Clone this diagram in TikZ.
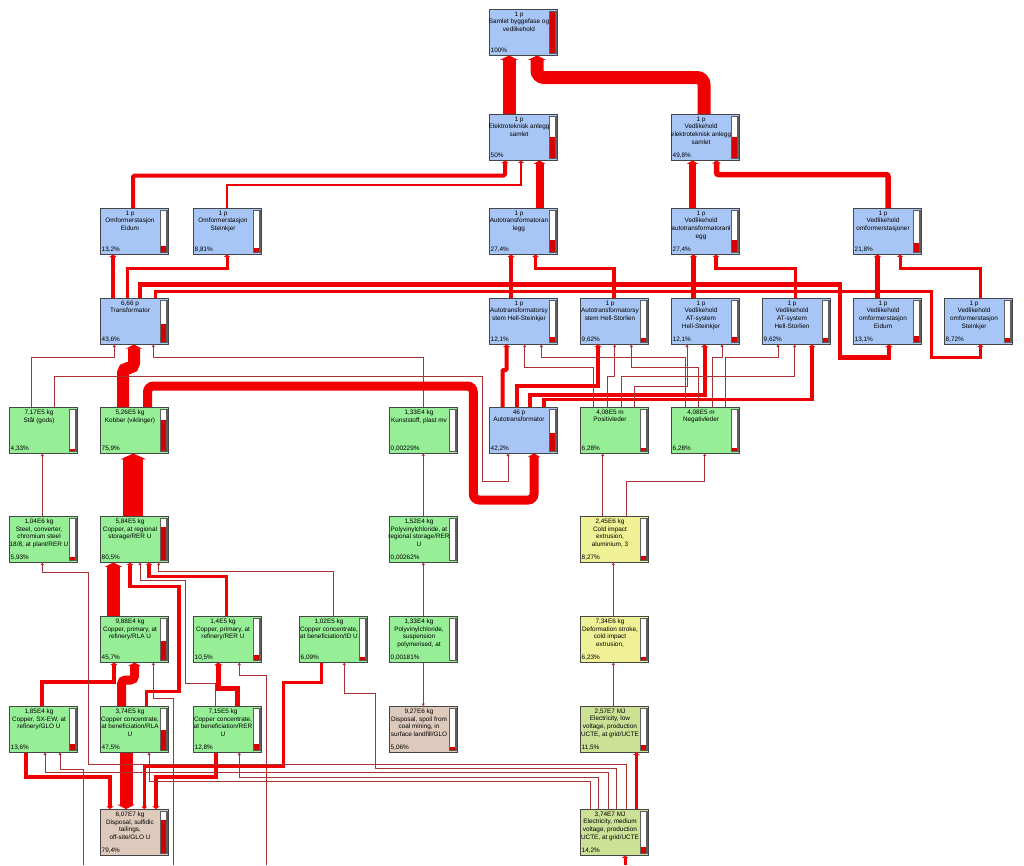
\documentclass[tikz,border=0pt]{standalone}
\usepackage{fontspec}
\setmainfont{Liberation Sans}
\usetikzlibrary{arrows.meta}
\definecolor{bluebox}{RGB}{168,198,245}
\definecolor{greenbox}{RGB}{150,238,150}
\definecolor{yellowbox}{RGB}{240,240,150}
\definecolor{olivebox}{RGB}{204,224,150}
\definecolor{tanbox}{RGB}{222,202,188}
\definecolor{boxedge}{RGB}{70,70,70}
\definecolor{bargray}{RGB}{95,95,95}
\definecolor{barred}{RGB}{215,0,0}
\definecolor{flowred}{RGB}{240,0,0}
\definecolor{thinred}{RGB}{170,50,50}
\tikzset{
  procbox/.style={rectangle, anchor=north west, minimum width=68.5pt, minimum height=46.5pt, inner sep=0pt, outer sep=0pt, draw=boxedge, line width=0.8pt},
  ptext/.style={anchor=north, align=center, inner sep=0pt, font=\fontsize{6.4}{7.8}\selectfont},
  ptag/.style={anchor=base west, inner sep=0pt, font=\fontsize{6.4}{7}\selectfont},
  fl/.style={draw=flowred, line width=#1, -{Triangle[length=1.8pt 0.2,width=2.6pt 1.15]}},
  tf/.style={draw=thinred, line width=0.9pt, -{Triangle[length=2.5pt,width=3pt]}}
}
\newcommand{\procbox}[7]{%
  \node[procbox, fill=#4] (#1) at (#2,#3) {};
  \node[ptext] (#1-t) at (#2+30,#3+2.4) {#5};
  \node[ptag] (#1-p) at (#2+1.5,#3+43.8) {#6};
  \fill[bargray] (#2+59.5,#3+1.5) rectangle (#2+67.5,#3+45);
  \fill[white] (#2+61,#3+3) rectangle (#2+66,#3+43.5);
  \fill[barred] (#2+61,#3+43.5-40.5*#7) rectangle (#2+66,#3+43.5);
}
\begin{document}
\begin{tikzpicture}[x=1pt,y=-1pt]
\useasboundingbox (0,0) rectangle (1024,865);
\fill[white] (0,0) rectangle (1024,865);

\procbox{samlet}{489}{9}{bluebox}{1 p\\Samlet byggefase og\\vedlikehold}{100\%}{1}
\procbox{elektro}{489}{114}{bluebox}{1 p\\Elektroteknisk anlegg\\samlet}{50\%}{0.5}
\procbox{vedlelektro}{671}{114}{bluebox}{1 p\\Vedlikehold\\elektroteknisk anlegg\\samlet}{49,8\%}{0.498}
\procbox{omfeidum}{100}{208}{bluebox}{1 p\\Omformerstasjon\\Eidum}{13,2\%}{0.132}
\procbox{omfsteinkjer}{193}{208}{bluebox}{1 p\\Omformerstasjon\\Steinkjer}{8,81\%}{0.0881}
\procbox{autoanlegg}{489}{208}{bluebox}{1 p\\Autotransformatoran\\legg}{27,4\%}{0.274}
\procbox{vedlauto}{671}{208}{bluebox}{1 p\\Vedlikehold\\autotransformatoranl\\egg}{27,4\%}{0.274}
\procbox{vedlomf}{853}{208}{bluebox}{1 p\\Vedlikehold\\omformerstasjoner}{21,8\%}{0.218}
\procbox{transformator}{100}{298}{bluebox}{6,66 p\\Transformator}{43,6\%}{0.436}
\procbox{hellsteinkjer}{489}{298}{bluebox}{1 p\\Autotransformatorsy\\stem Hell-Steinkjer}{12,1\%}{0.121}
\procbox{hellstorlien}{580}{298}{bluebox}{1 p\\Autotransformatorsy\\stem Hell-Storlien}{9,62\%}{0.0962}
\procbox{vathellsteinkjer}{671}{298}{bluebox}{1 p\\Vedlikehold\\AT-system\\Hell-Steinkjer}{12,1\%}{0.121}
\procbox{vathellstorlien}{762}{298}{bluebox}{1 p\\Vedlikehold\\AT-system\\Hell-Storlien}{9,62\%}{0.0962}
\procbox{vedlomfeidum}{853}{298}{bluebox}{1 p\\Vedlikehold\\omformerstasjon\\Eidum}{13,1\%}{0.131}
\procbox{vedlomfsteinkjer}{944}{298}{bluebox}{1 p\\Vedlikehold\\omformerstasjon\\Steinkjer}{8,72\%}{0.0872}
\procbox{staal}{9}{407}{greenbox}{7,17E5 kg\\Stål (gods)}{4,33\%}{0.0433}
\procbox{kobber}{100}{407}{greenbox}{5,26E5 kg\\Kobber (viklinger)}{75,9\%}{0.759}
\procbox{kunststoff}{389}{407}{greenbox}{1,33E4 kg\\Kunststoff, plast mv}{0,00229\%}{0}
\procbox{autotrafo}{489}{407}{bluebox}{46 p\\Autotransformator}{42,2\%}{0.422}
\procbox{positiv}{580}{407}{greenbox}{4,08E5 m\\Positivleder}{6,28\%}{0.0628}
\procbox{negativ}{671}{407}{greenbox}{4,08E5 m\\Negativleder}{6,28\%}{0.0628}
\procbox{steelconv}{9}{516}{greenbox}{1,04E6 kg\\Steel, converter,\\chromium steel\\18/8, at plant/RER U}{5,93\%}{0.0593}
\procbox{copperreg}{100}{516}{greenbox}{5,84E5 kg\\Copper, at regional\\storage/RER U}{80,5\%}{0.805}
\procbox{pvcreg}{389}{516}{greenbox}{1,52E4 kg\\Polyvinylchloride, at\\regional storage/RER\\U}{0,00262\%}{0}
\procbox{coldimpact}{580}{516}{yellowbox}{2,45E6 kg\\Cold impact\\extrusion,\\aluminium, 3}{8,27\%}{0.0827}
\procbox{cuprimrla}{100}{616}{greenbox}{9,88E4 kg\\Copper, primary, at\\refinery/RLA U}{45,7\%}{0.457}
\procbox{cuprimrer}{193}{616}{greenbox}{1,4E5 kg\\Copper, primary, at\\refinery/RER U}{10,5\%}{0.105}
\procbox{cuconcid}{299}{616}{greenbox}{1,02E5 kg\\Copper concentrate,\\at beneficiation/ID U}{6,09\%}{0.0609}
\procbox{pvcsusp}{389}{616}{greenbox}{1,33E4 kg\\Polyvinylchloride,\\suspension\\polymerised, at}{0,00181\%}{0}
\procbox{deformation}{580}{616}{yellowbox}{7,34E6 kg\\Deformation stroke,\\cold impact\\extrusion,}{6,23\%}{0.0623}
\procbox{cusxew}{9}{706}{greenbox}{1,85E4 kg\\Copper, SX-EW, at\\refinery/GLO U}{13,6\%}{0.136}
\procbox{cuconcrla}{100}{706}{greenbox}{3,74E5 kg\\Copper concentrate,\\at beneficiation/RLA\\U}{47,5\%}{0.475}
\procbox{cuconcrer}{193}{706}{greenbox}{7,15E5 kg\\Copper concentrate,\\at beneficiation/RER\\U}{12,8\%}{0.128}
\procbox{dispspoil}{389}{706}{tanbox}{9,27E6 kg\\Disposal, spoil from\\coal mining, in\\surface landfill/GLO}{5,06\%}{0.0506}
\procbox{ellow}{580}{706}{olivebox}{2,57E7 MJ\\Electricity, low\\voltage, production\\UCTE, at grid/UCTE}{11,5\%}{0.115}
\procbox{dispsulf}{100}{809}{tanbox}{6,07E7 kg\\Disposal, sulfidic\\tailings,\\off-site/GLO U}{79,4\%}{0.794}
\procbox{elmed}{580}{809}{olivebox}{3,74E7 MJ\\Electricity, medium\\voltage, production\\UCTE, at grid/UCTE}{14,2\%}{0.142}

\coordinate (offA) at (83.3,865);
\coordinate (offB) at (173.3,865);
\coordinate (offC) at (266.7,865);
\coordinate (offD) at (625,865);

% top levels
\draw[fl=13pt] ([xshift=20pt]elektro.north west) -- ([xshift=20pt]samlet.south west);
\draw[fl=13pt,rounded corners=7pt] ([xshift=33pt]vedlelektro.north west) |- (537,77.5) -- ([xshift=48pt]samlet.south west);
\draw[fl=4pt,rounded corners=1.5pt] ([xshift=33pt]omfeidum.north west) |- (505,175.5) -- ([xshift=16pt]elektro.south west);
\draw[fl=2.5pt] ([xshift=34pt]omfsteinkjer.north west) |- (521,185) -- ([xshift=32pt]elektro.south west);
\draw[fl=8pt] ([xshift=50.5pt]autoanlegg.north west) -- ([xshift=50.5pt]elektro.south west);
\draw[fl=7.5pt] ([xshift=21.5pt]vedlauto.north west) -- ([xshift=21.5pt]vedlelektro.south west);
\draw[fl=5.5pt,rounded corners=2pt] ([xshift=35pt]vedlomf.north west) |- (716.5,174.5) -- ([xshift=45.5pt]vedlelektro.south west);

% row 3 to row 2
\draw[fl=4.5pt] ([xshift=13pt]transformator.north west) -- ([xshift=13pt]omfeidum.south west);
\draw[fl=3pt] ([xshift=27pt]transformator.north west) |- (227,268.5) -- ([xshift=34pt]omfsteinkjer.south west);
\draw[fl=4.5pt] ([xshift=40pt]transformator.north west) |- (840,284.3) |- (889,357.3) -- ([xshift=36pt]vedlomfeidum.south west);
\draw[fl=3pt] ([xshift=55pt]transformator.north west) |- (931.5,291.7) |- (980.5,357.3) -- ([xshift=36.5pt]vedlomfsteinkjer.south west);
\draw[fl=4.5pt] ([xshift=22pt]hellsteinkjer.north west) -- ([xshift=22pt]autoanlegg.south west);
\draw[fl=3.5pt] ([xshift=34pt]hellstorlien.north west) |- (535.5,268.5) -- ([xshift=46.5pt]autoanlegg.south west);
\draw[fl=4.5pt] ([xshift=22.5pt]vathellsteinkjer.north west) -- ([xshift=22.5pt]vedlauto.south west);
\draw[fl=3.5pt] ([xshift=33.5pt]vathellstorlien.north west) |- (716,268.5) -- ([xshift=45pt]vedlauto.south west);
\draw[fl=4.5pt] ([xshift=24.5pt]vedlomfeidum.north west) -- ([xshift=24.5pt]vedlomf.south west);
\draw[fl=3pt] ([xshift=36.5pt]vedlomfsteinkjer.north west) |- (900,268.5) -- ([xshift=47pt]vedlomf.south west);

% row 4 to row 3
\draw[fl=4pt,rounded corners=1pt] ([xshift=13.5pt]autotrafo.north west) |- (506.5,370) -- ([xshift=17.5pt]hellsteinkjer.south west);
\draw[fl=4pt] ([xshift=27.5pt]autotrafo.north west) |- (598,386) -- ([xshift=18pt]hellstorlien.south west);
\draw[fl=4pt] ([xshift=41pt]autotrafo.north west) |- (704.5,395) -- ([xshift=33.5pt]vathellsteinkjer.south west);
\draw[fl=3.5pt] ([xshift=55pt]autotrafo.north west) |- (812,399.5) -- ([xshift=50pt]vathellstorlien.south west);
\draw[tf] ([xshift=13.7pt]positiv.north west) |- (524.7,367.3) -- ([xshift=35.7pt]hellsteinkjer.south west);
\draw[tf] ([xshift=14.3pt]negativ.north west) |- (541.3,357.3) -- ([xshift=52.3pt]hellsteinkjer.south west);
\draw[tf] ([xshift=27.7pt]positiv.north west) |- (614.7,376.7) -- ([xshift=34.7pt]hellstorlien.south west);
\draw[tf] ([xshift=27pt]negativ.north west) |- (631.3,367.3) -- ([xshift=51.3pt]hellstorlien.south west);
\draw[tf] ([xshift=54.3pt]positiv.north west) |- (687,386) -- ([xshift=16pt]vathellsteinkjer.south west);
\draw[tf] ([xshift=41pt]negativ.north west) |- (722,357.3) -- ([xshift=51pt]vathellsteinkjer.south west);
\draw[tf] ([xshift=41pt]positiv.north west) |- (794.7,376.7) -- ([xshift=32.7pt]vathellstorlien.south west);
\draw[tf] ([xshift=54.3pt]negativ.north west) |- (778,357.3) -- ([xshift=16pt]vathellstorlien.south west);
\draw[tf] ([xshift=22pt]staal.north west) |- (114.3,357.3) -- ([xshift=14.3pt]transformator.south west);
\draw[fl=12pt,rounded corners=5pt] ([xshift=23pt]kobber.north west) |- (134,368) -- ([xshift=34pt]transformator.south west);
\draw[tf] ([xshift=34.3pt]kunststoff.north west) |- (153.3,357.3) -- ([xshift=53.3pt]transformator.south west);
\draw[tf] ([xshift=45.3pt]staal.north west) |- (482.3,376.7) |- (508,481.7) -- ([xshift=19pt]autotrafo.south west);
\draw[fl=9pt,rounded corners=6pt] ([xshift=47.5pt]kobber.north west) |- (473.3,386) |- (534,500) -- ([xshift=45pt]autotrafo.south west);

% row 5 to row 4
\draw[tf,line width=1.3pt] ([xshift=33.3pt]steelconv.north west) -- ([xshift=33.3pt]staal.south west);
\draw[fl=20pt] ([xshift=33.3pt]copperreg.north west) -- ([xshift=33.3pt]kobber.south west);
\draw[tf] ([xshift=34.3pt]pvcreg.north west) -- ([xshift=34.3pt]kunststoff.south west);
\draw[tf] ([xshift=22.7pt]coldimpact.north west) -- ([xshift=22.7pt]positiv.south west);
\draw[tf] ([xshift=46pt]coldimpact.north west) |- (704.7,481.3) -- ([xshift=33.7pt]negativ.south west);

% row 6 to row 5
\draw[fl=13pt] ([xshift=13.3pt]cuprimrla.north west) -- ([xshift=13.3pt]copperreg.south west);
\draw[fl=3.5pt] ([xshift=46.7pt]cuconcrla.north west) |- (179,691.7) |- (130,586.7) -- ([xshift=30pt]copperreg.south west);
\draw[fl=3.5pt] ([xshift=33.7pt]cuprimrer.north west) |- (149,576.7) -- ([xshift=49pt]copperreg.south west);
\draw[tf] ([xshift=22pt]cuconcrer.north west) |- (185,683.3) |- (140,580) -- ([xshift=40pt]copperreg.south west);
\draw[tf] ([xshift=34.3pt]cuconcid.north west) |- (158.7,571.7) -- ([xshift=58.7pt]copperreg.south west);
\draw[tf] ([xshift=34.3pt]pvcsusp.north west) -- ([xshift=34.3pt]pvcreg.south west);
\draw[tf] ([xshift=33.3pt]deformation.north west) -- ([xshift=33.3pt]coldimpact.south west);
\draw[tf] ([xshift=33.3pt]ellow.north west) -- ([xshift=33.3pt]deformation.south west);
\draw[fl=3.5pt] ([xshift=56.5pt]elmed.north west) -- ([xshift=56.5pt]ellow.south west);

% row 7 to row 6
\draw[fl=4pt] ([xshift=33.3pt]cusxew.north west) |- (114,681.7) -- ([xshift=14pt]cuprimrla.south west);
\draw[fl=9pt,rounded corners=4pt] ([xshift=21.5pt]cuconcrla.north west) |- (134.5,680) -- ([xshift=34.5pt]cuprimrla.south west);
\draw[tf] (offB) |- (153.3,698) -- ([xshift=53.3pt]cuprimrla.south west);
\draw[fl=5pt] ([xshift=44.7pt]cuconcrer.north west) |- (218.3,688) -- ([xshift=25.3pt]cuprimrer.south west);
\draw[tf] (offC) |- (239.3,675) -- ([xshift=46.3pt]cuprimrer.south west);

% disposals
\draw[fl=4pt] ([xshift=17pt]cusxew.south west) |- (110,776.7) -- ([xshift=10pt]dispsulf.north west);
\draw[fl=13pt] ([xshift=26pt]cuconcrla.south west) -- ([xshift=26pt]dispsulf.north west);
\draw[fl=3pt] ([xshift=22pt]cuconcid.south west) |- (283.3,682.3) |- (144.3,766.7) -- ([xshift=44.3pt]dispsulf.north west);
\draw[fl=4pt] ([xshift=23pt]cuconcrer.south west) |- (156,776.7) -- ([xshift=56pt]dispsulf.north west);
\draw[tf] ([xshift=34.3pt]pvcsusp.south west) -- ([xshift=34.3pt]dispspoil.north west);
\draw[tf] (offA) |- (60,769) -- ([xshift=51pt]cusxew.south west);

% electricity, medium voltage
\draw[tf] ([xshift=46.7pt]elmed.north west) |- (88.3,764) |- (42.3,572.3) -- ([xshift=33.3pt]steelconv.south west);
\draw[tf] ([xshift=36.7pt]elmed.north west) |- (375.7,768.5) |- (344.3,693.5) -- ([xshift=45.3pt]cuconcid.south west);
\draw[tf] ([xshift=28.3pt]elmed.north west) |- (45,772.5) -- ([xshift=36pt]cusxew.south west);
\draw[tf] ([xshift=18.3pt]elmed.north west) |- (239.3,777) -- ([xshift=46.3pt]cuconcrer.south west);
\draw[tf] ([xshift=10pt]elmed.north west) |- (149,781.5) -- ([xshift=49pt]cuconcrla.south west);
\draw[fl=3pt] (offD) -- ([xshift=45pt]elmed.south west);
\end{tikzpicture}
\end{document}
